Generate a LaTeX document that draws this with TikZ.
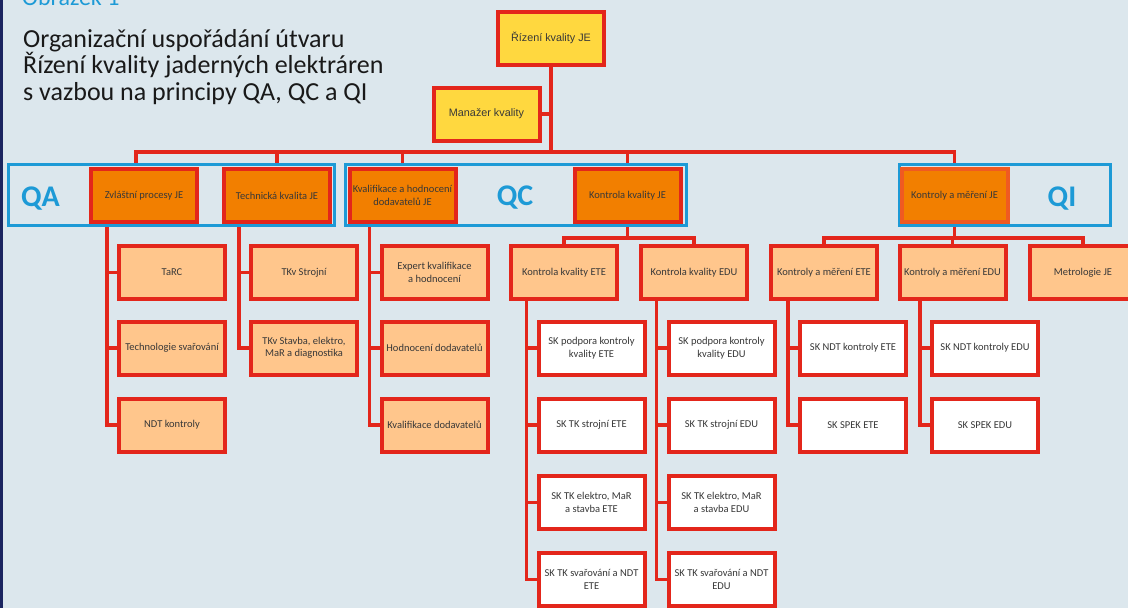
\documentclass[tikz,border=0pt]{standalone}
\usepackage{fontspec}
\setmainfont{Carlito}
\newfontfamily\arialfont{Liberation Sans}
\usetikzlibrary{positioning}

\definecolor{pozadi}{HTML}{DCE7ED}
\definecolor{cervena}{HTML}{E3261B}
\definecolor{rezava}{HTML}{F05A22}
\definecolor{zluta}{HTML}{FFD83F}
\definecolor{oranzova}{HTML}{F27F00}
\definecolor{svetlaor}{HTML}{FFC68C}
\definecolor{modra}{HTML}{1D9AD6}
\definecolor{tmavomodra}{HTML}{1B2560}
\definecolor{pismo}{HTML}{383838}

\begin{document}
\begin{tikzpicture}[x=1pt, y=-1pt]
        \tikzstyle{every node} = [text=pismo, font=\fontsize{10.5}{12.5}\selectfont]
        \tikzstyle{ramecek}    = [draw=cervena, line width=4pt, minimum width=106pt, minimum height=53pt, inner sep=1pt, align=center]
        \tikzstyle{vedeni}     = [ramecek, fill=zluta, font=\arialfont\fontsize{10.8}{13}\selectfont]
        \tikzstyle{utvar}      = [ramecek, fill=oranzova]
        \tikzstyle{oddeleni}   = [ramecek, fill=svetlaor]
        \tikzstyle{sekce}      = [ramecek, fill=white]
        \tikzstyle{skupina}    = [draw=modra, line width=3pt, inner sep=0pt, minimum height=61pt]
        \tikzstyle{zkratka}    = [anchor=base, text=modra, font=\bfseries\fontsize{30}{30}\selectfont]
        \tikzstyle{nadpis}     = [anchor=base west, inner sep=0pt, text=black!90, font=\fontsize{26}{27}\selectfont]
        \tikzstyle{spoj}       = [draw=cervena, line width=3.2pt]

        \useasboundingbox (0,0) rectangle (1128,608);
        \clip (0,0) rectangle (1128,608);
        \fill[pozadi] (0,0) rectangle (1128,608);
        \fill[tmavomodra] (0,0) rectangle (3,608);

        % Nadpis.
        \node[nadpis, text=modra, font=\fontsize{24}{24}\selectfont] (obrazek) at (22,5) {Obrázek 1};
        \node[nadpis] (nadpisA) at (23,47) {Organizační uspořádání útvaru};
        \node[nadpis] (nadpisB) at (23,73.5) {Řízení kvality jaderných elektráren};
        \node[nadpis] (nadpisC) at (23,100.5) {s vazbou na principy QA, QC a QI};

        % Vedení.
        \node[vedeni] (rizeni)  at (551,38)    {Řízení kvality JE};
        \node[vedeni] (manazer) at (486.5,114) {Manažer kvality};

        % Skupiny QA, QC, QI.
        \node[skupina, minimum width=326pt] (QA) at (171.5,195) {};
        \node[skupina, minimum width=341pt] (QC) at (516,195)   {};
        \node[skupina, minimum width=211pt] (QI) at (1005,195)  {};
        \node[zkratka] (QAtext) at (40.5,206)  {QA};
        \node[zkratka] (QCtext) at (515,205.5) {QC};
        \node[zkratka] (QItext) at (1062,206)  {QI};

        \def\Ro{195.5}
        \def\Ra{272.5}
        \def\Rb{348}
        \def\Rc{425}
        \def\Rd{502.5}
        \def\Re{579.5}

        \node[utvar] (zvlastni)    at (144,\Ro)   {Zvláštní procesy JE};
        \node[utvar] (technicka)   at (277,\Ro)   {Technická kvalita JE};
        \node[utvar] (kvalifikace) at (402.5,\Ro) {Kvalifikace a hodnocení\\dodavatelů JE};
        \node[utvar] (kontrolaJE)  at (627.5,\Ro) {Kontrola kvality JE};
        \node[utvar, draw=rezava] (mereniJE) at (954.5,\Ro) {Kontroly a měření JE};

        \node[oddeleni] (tarc)       at (172,\Ra)   {TaRC};
        \node[oddeleni] (svarovani)  at (172,\Rb)   {Technologie svařování};
        \node[oddeleni] (ndt)        at (172,\Rc)   {NDT kontroly};
        \node[oddeleni] (strojni)    at (304,\Ra)   {TKv Strojní};
        \node[oddeleni] (stavba)     at (304,\Rb)   {TKv Stavba, elektro,\\MaR a diagnostika};
        \node[oddeleni] (expert)     at (434.5,\Ra) {Expert kvalifikace\\a hodnocení};
        \node[oddeleni] (hodnoceni)  at (434.5,\Rb) {Hodnocení dodavatelů};
        \node[oddeleni] (kvaldod)    at (434.5,\Rc) {Kvalifikace dodavatelů};
        \node[oddeleni] (kkETE)      at (564,\Ra)   {Kontrola kvality ETE};
        \node[oddeleni] (kkEDU)      at (694,\Ra)   {Kontrola kvality EDU};
        \node[oddeleni] (kmETE)      at (824,\Ra)   {Kontroly a měření ETE};
        \node[oddeleni] (kmEDU)      at (952.5,\Ra) {Kontroly a měření EDU};
        \node[oddeleni] (metrologie) at (1083,\Ra)  {Metrologie JE};

        \node[sekce] (podporaETE) at (591.5,\Rb) {SK podpora kontroly\\kvality ETE};
        \node[sekce] (strojniETE) at (591.5,\Rc) {SK TK strojní ETE};
        \node[sekce] (elektroETE) at (591.5,\Rd) {SK TK elektro, MaR\\a stavba ETE};
        \node[sekce] (svarETE)    at (591.5,\Re) {SK TK svařování a NDT\\ETE};
        \node[sekce] (podporaEDU) at (721.5,\Rb) {SK podpora kontroly\\kvality EDU};
        \node[sekce] (strojniEDU) at (721.5,\Rc) {SK TK strojní EDU};
        \node[sekce] (elektroEDU) at (721.5,\Rd) {SK TK elektro, MaR\\a stavba EDU};
        \node[sekce] (svarEDU)    at (721.5,\Re) {SK TK svařování a NDT\\EDU};
        \node[sekce] (ndtETE)     at (853,\Rb)   {SK NDT kontroly ETE};
        \node[sekce] (spekETE)    at (853,\Rc)   {SK SPEK ETE};
        \node[sekce] (ndtEDU)     at (985,\Rb)   {SK NDT kontroly EDU};
        \node[sekce] (spekEDU)    at (985,\Rc)   {SK SPEK EDU};

        % Spojnice.
        \coordinate (sbernice) at (551,152);
        \draw[spoj] (rizeni.south) -- (sbernice);
        \draw[spoj] (manazer.east) -- (manazer.east -| rizeni.south);
        \draw[spoj] ([xshift=-8pt]zvlastni.north |- QA.north) |- (mereniJE.north |- sbernice) -- (mereniJE.north |- QI.north);
        \foreach \u in {technicka, kvalifikace, kontrolaJE}
            \draw[spoj] (\u.north |- sbernice) -- (\u.north |- QA.north);

        \foreach \d in {tarc, svarovani, ndt}
            \draw[spoj] ([xshift=-10pt]tarc.west |- QA.south) |- (\d.west);
        \foreach \d in {strojni, stavba}
            \draw[spoj] ([xshift=-10pt]strojni.west |- QA.south) |- (\d.west);
        \foreach \d in {expert, hodnoceni, kvaldod}
            \draw[spoj] ([xshift=-10pt]expert.west |- QC.south) |- (\d.west);
        \foreach \d in {podporaETE, strojniETE, elektroETE, svarETE}
            \draw[spoj] ([xshift=-10pt]podporaETE.west |- kkETE.south) |- (\d.west);
        \foreach \d in {podporaEDU, strojniEDU, elektroEDU, svarEDU}
            \draw[spoj] ([xshift=-10pt]podporaEDU.west |- kkEDU.south) |- (\d.west);
        \foreach \d in {ndtETE, spekETE}
            \draw[spoj] ([xshift=-10pt]ndtETE.west |- kmETE.south) |- (\d.west);
        \foreach \d in {ndtEDU, spekEDU}
            \draw[spoj] ([xshift=-10pt]ndtEDU.west |- kmEDU.south) |- (\d.west);

        \draw[spoj] (kontrolaJE.south |- QC.south) -- ++(0,11) coordinate (vetevQC);
        \draw[spoj] (kkETE.north) |- (vetevQC) -| (kkEDU.north);
        \draw[spoj] (mereniJE.south |- QI.south) -- ++(0,11) coordinate (vetevQI);
        \draw[spoj] (kmETE.north) |- (vetevQI) -| (metrologie.north);
        \draw[spoj] (kmEDU.north) -- (kmEDU.north |- vetevQI);
\end{tikzpicture}
\end{document}
